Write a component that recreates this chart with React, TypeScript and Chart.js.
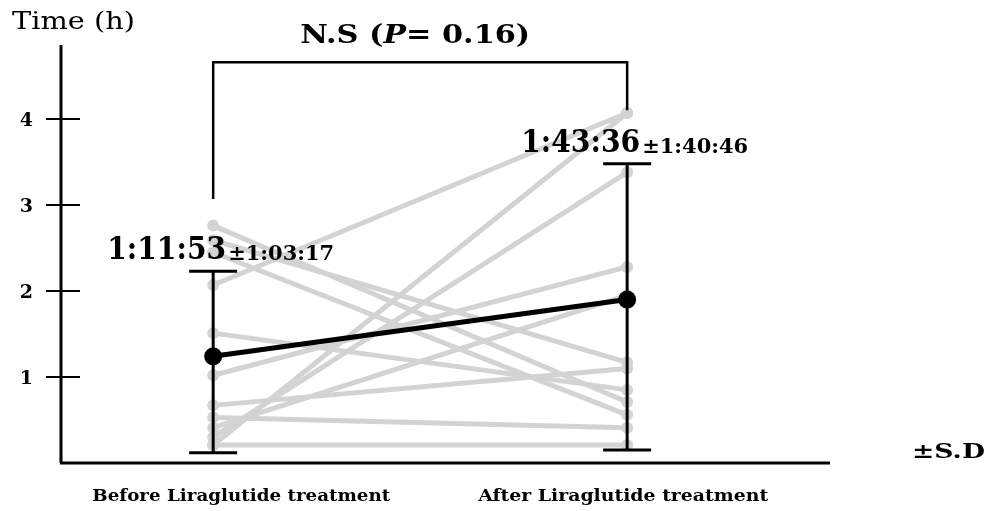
import React, { useEffect, useRef } from "react";
import { Chart, registerables } from "chart.js";

Chart.register(...registerables);

// ---- data ----
const categories = ["Before Liraglutide treatment", "After Liraglutide treatment"];
const beforeValues = [2.07, 0.21, 0.3, 2.76, 2.59, 2.45, 1.51, 1.02, 0.67, 0.53, 0.21, 0.41];
const afterValues = [4.07, 4.07, 3.38, 0.71, 1.17, 0.56, 0.85, 2.28, 1.1, 0.41, 0.21, 1.95];
const meanValues = [1.24, 1.9];
const sdUpper = [2.23, 3.48];
const sdLower = [0.12, 0.15];
const meanLabels = ["1:11:53", "1:43:36"];
const sdLabels = ["±1:03:17", "±1:40:46"];
const yTicks = [1, 2, 3, 4];
const yAxisTitle = "Time (h)";
const sdNote = "±S.D";
const pValueParts = ["N.S (", "P", "= 0.16)"];
const bracketTop = 4.66;
const bracketLeftEnd = 3.07;
const bracketRightEnd = 4.1;

const SERIF = '"DejaVu Serif", serif';
const GRAY = "#d3d3d3";

function fitText(
  ctx: CanvasRenderingContext2D,
  text: string,
  x: number,
  y: number,
  font: string,
  width: number | null,
  align: "left" | "center" | "right" = "left"
) {
  ctx.save();
  ctx.font = font;
  ctx.textBaseline = "alphabetic";
  ctx.textAlign = "left";
  const w = ctx.measureText(text).width;
  const sx = width ? width / w : 1;
  const drawnW = w * sx;
  let left = x;
  if (align === "center") left = x - drawnW / 2;
  if (align === "right") left = x - drawnW;
  ctx.translate(left, y);
  ctx.scale(sx, 1);
  ctx.fillText(text, 0, 0);
  ctx.restore();
  return drawnW;
}

const decorPlugin = {
  id: "decor",
  beforeDatasetsDraw(chart: any) {
    const { ctx, chartArea, scales } = chart;
    const ys = scales.y;
    ctx.save();
    ctx.strokeStyle = "#000";
    ctx.fillStyle = "#000";
    // axes
    ctx.lineWidth = 3;
    ctx.beginPath();
    ctx.moveTo(chartArea.left + 1, chartArea.top);
    ctx.lineTo(chartArea.left + 1, chartArea.bottom);
    ctx.moveTo(chartArea.left, chartArea.bottom);
    ctx.lineTo(chartArea.right, chartArea.bottom);
    ctx.stroke();
    // ticks crossing the axis
    ctx.lineWidth = 2;
    yTicks.forEach((t) => {
      const py = ys.getPixelForValue(t);
      ctx.beginPath();
      ctx.moveTo(chartArea.left - 14, py);
      ctx.lineTo(chartArea.left + 20, py);
      ctx.stroke();
      fitText(ctx, String(t), chartArea.left - 27, py + 7, `bold 19px ${SERIF}`, null, "right");
    });
    ctx.restore();
  },
  afterDatasetsDraw(chart: any) {
    const { ctx, chartArea, scales } = chart;
    const xs = scales.x;
    const ys = scales.y;
    ctx.save();
    ctx.strokeStyle = "#000";
    ctx.fillStyle = "#000";
    // error bars
    ctx.lineWidth = 3;
    categories.forEach((_, i) => {
      const px = xs.getPixelForValue(i);
      const top = ys.getPixelForValue(sdUpper[i]);
      const bot = ys.getPixelForValue(sdLower[i]);
      ctx.beginPath();
      ctx.moveTo(px, top);
      ctx.lineTo(px, bot);
      ctx.moveTo(px - 24, top);
      ctx.lineTo(px + 24, top);
      ctx.moveTo(px - 24, bot);
      ctx.lineTo(px + 24, bot);
      ctx.stroke();
      // labels
      const lx = px - 106;
      const ly = top - 12;
      const w1 = fitText(ctx, meanLabels[i], lx, ly, `bold 31px ${SERIF}`, 119);
      fitText(ctx, sdLabels[i], lx + w1 + 2, ly + 1, `bold 20px ${SERIF}`, 106);
    });
    // bracket
    const x0 = xs.getPixelForValue(0);
    const x1 = xs.getPixelForValue(1);
    const bt = ys.getPixelForValue(bracketTop);
    ctx.lineWidth = 2.5;
    ctx.beginPath();
    ctx.moveTo(x0, ys.getPixelForValue(bracketLeftEnd));
    ctx.lineTo(x0, bt);
    ctx.lineTo(x1, bt);
    ctx.lineTo(x1, ys.getPixelForValue(bracketRightEnd));
    ctx.stroke();
    // p-value text
    const fs = 26;
    ctx.font = `bold ${fs}px ${SERIF}`;
    const a = ctx.measureText(pValueParts[0]).width;
    ctx.font = `italic bold ${fs}px ${SERIF}`;
    const b = ctx.measureText(pValueParts[1]).width;
    ctx.font = `bold ${fs}px ${SERIF}`;
    const c = ctx.measureText(pValueParts[2]).width;
    const total = a + b + c;
    const target = 230;
    const sx = target / total;
    const mid = (x0 + x1) / 2 - 5;
    ctx.save();
    ctx.translate(mid - target / 2, bt - 19);
    ctx.scale(sx, 1);
    ctx.textBaseline = "alphabetic";
    ctx.font = `bold ${fs}px ${SERIF}`;
    ctx.fillText(pValueParts[0], 0, 0);
    ctx.font = `italic bold ${fs}px ${SERIF}`;
    ctx.fillText(pValueParts[1], a, 0);
    ctx.font = `bold ${fs}px ${SERIF}`;
    ctx.fillText(pValueParts[2], a + b, 0);
    ctx.restore();
    // axis title
    fitText(ctx, yAxisTitle, 12, 29, `24px ${SERIF}`, 123);
    // category labels
    const catCenters = [x0 + 28, x1 - 4];
    const catWidths = [298, 290];
    categories.forEach((c2, i) => {
      fitText(ctx, c2, catCenters[i], chartArea.bottom + 38, `bold 17px ${SERIF}`, catWidths[i], "center");
    });
    // S.D note
    fitText(ctx, sdNote, 912, chartArea.bottom - 5, `bold 21px ${SERIF}`, 73);
    ctx.restore();
  },
};

export default function App() {
  const ref = useRef<HTMLCanvasElement>(null);
  useEffect(() => {
    if (!ref.current) return;
    const subjectSets = beforeValues.map((b, i) => ({
      data: [
        { x: 0, y: b },
        { x: 1, y: afterValues[i] },
      ],
      borderColor: GRAY,
      backgroundColor: GRAY,
      pointBackgroundColor: GRAY,
      pointBorderWidth: 0,
      borderWidth: 5,
      pointRadius: 6,
    }));
    const meanSet = {
      data: meanValues.map((v, i) => ({ x: i, y: v })),
      borderColor: "#000",
      backgroundColor: "#000",
      pointBackgroundColor: "#000",
      pointBorderWidth: 0,
      borderWidth: 5,
      pointRadius: 9,
    };
    const chart = new Chart(ref.current, {
      type: "line",
      data: { datasets: [meanSet, ...subjectSets] as any },
      options: {
        animation: false,
        responsive: false,
        devicePixelRatio: 1,
        layout: { padding: { left: 60, top: 45, right: 159, bottom: 48 } },
        scales: {
          x: { type: "linear", min: -0.37, max: 1.49, display: false },
          y: { type: "linear", min: 0, max: 4.86, display: false },
        },
        plugins: { legend: { display: false }, tooltip: { enabled: false } },
      },
      plugins: [decorPlugin],
    });
    return () => chart.destroy();
  }, []);
  return (
    <div style={{ position: "fixed", left: 0, top: 0, width: 989, height: 511, background: "#fff" }}>
      <canvas ref={ref} width={989} height={511} />
    </div>
  );
}
